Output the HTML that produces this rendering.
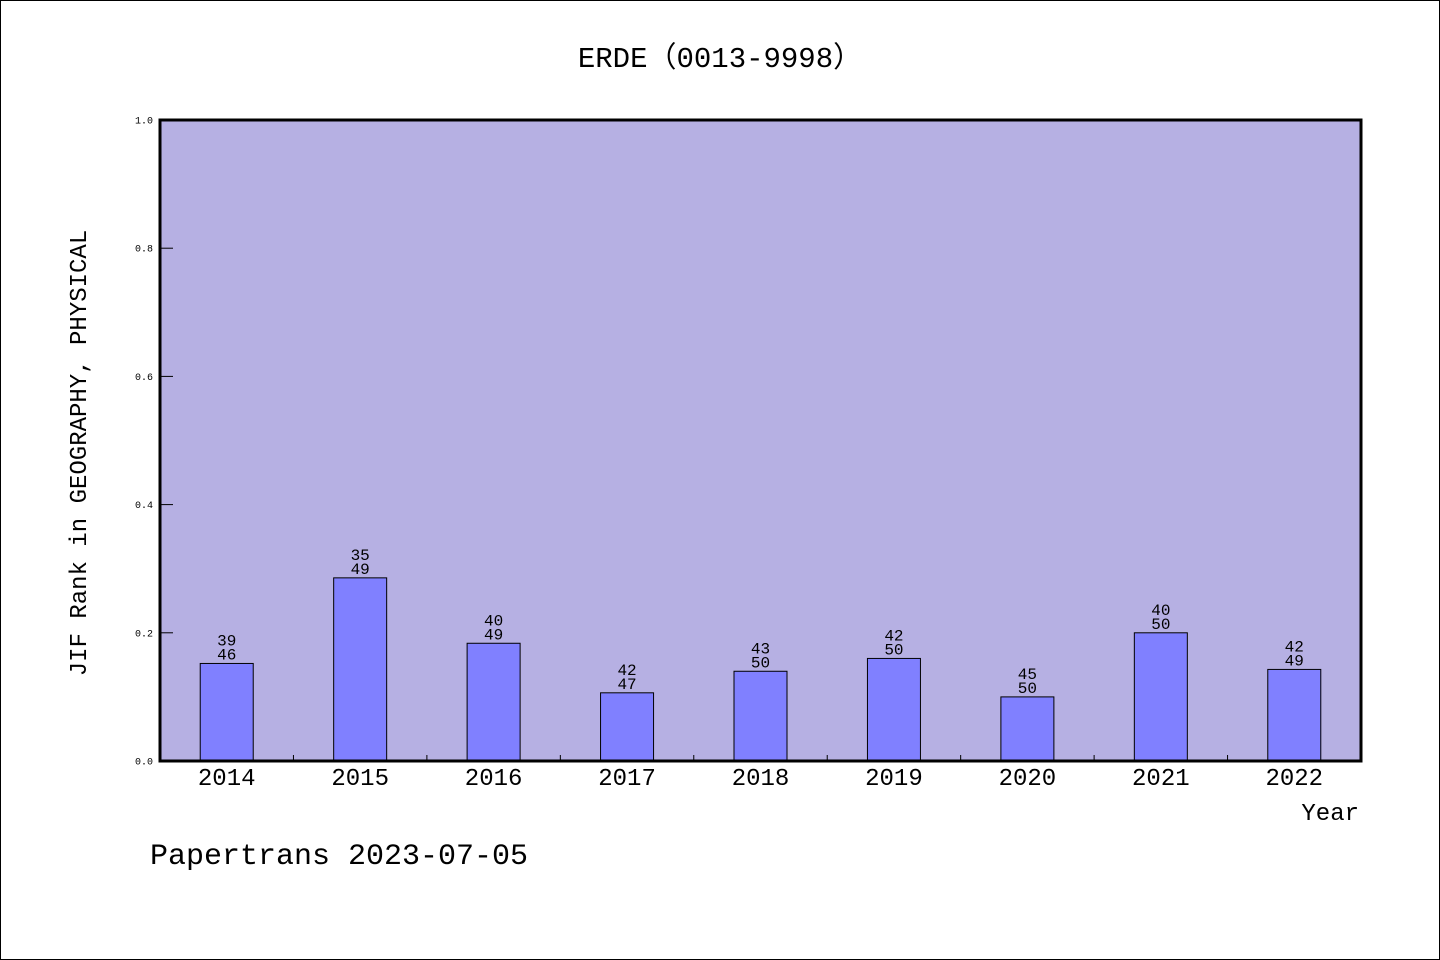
<!DOCTYPE html>
<html><head><meta charset="utf-8"><style>
html,body{margin:0;padding:0;background:#fff}
svg{display:block;font-family:"WenQuanYi Zen Hei Mono","WenQuanYi Zen Hei","Liberation Mono",monospace}
</style></head><body>
<svg id="chart" width="1440" height="960" viewBox="0 0 1440 960" xmlns="http://www.w3.org/2000/svg">
<rect x="0.5" y="0.5" width="1439" height="959" fill="#fff" stroke="#000" stroke-width="1"/>
<text x="720" y="67" text-anchor="middle" font-size="29">ERDE（0013-9998）</text>
<rect x="160" y="120" width="1201" height="641" fill="#b6b0e3"/>
<g id="bars"></g>
<g id="yaxis"></g>
<g id="xaxis"></g>
<rect x="160" y="120" width="1201" height="641" fill="none" stroke="#000" stroke-width="3"/>
<text transform="translate(86,453) rotate(-90)" text-anchor="middle" font-size="24">JIF Rank in GEOGRAPHY, PHYSICAL</text>
<text x="1359" y="820" text-anchor="end" font-size="24">Year</text>
<text x="150" y="864" font-size="30">Papertrans 2023-07-05</text>
</svg>
<script>
const years = ["2014","2015","2016","2017","2018","2019","2020","2021","2022"];
const ranks = [39,35,40,42,43,42,45,40,42];
const totals = [46,49,49,47,50,50,50,50,49];
const yTicks = [0,0.2,0.4,0.6,0.8,1.0];
const yTickLabels = ["0.0","0.2","0.4","0.6","0.8","1.0"];

const NS="http://www.w3.org/2000/svg";
const X0=160,X1=1361,Y0=761,Y1=120;
const band=(X1-X0)/years.length;
const xc=i=>X0+band*(i+0.5);
const ys=v=>Y0-(Y0-Y1)*v;
function mk(t,a,p){const e=document.createElementNS(NS,t);for(const k in a)e.setAttribute(k,a[k]);p.appendChild(e);return e;}
const gB=document.getElementById('bars'),gY=document.getElementById('yaxis'),gX=document.getElementById('xaxis');
years.forEach((y,i)=>{
  const v=1-ranks[i]/totals[i];
  const r=mk('rect',{x:xc(i)-26.5,y:ys(v),width:53,height:Y0-ys(v),fill:'#8080ff',stroke:'#000','stroke-width':1},gB);
  
  
  const t1=mk('text',{x:xc(i),y:ys(v)-18,'text-anchor':'middle','font-size':16},gB);
  t1.textContent=ranks[i];
  
  
  const t2=mk('text',{x:xc(i),y:ys(v)-4,'text-anchor':'middle','font-size':16},gB);
  t2.textContent=totals[i];
  
  
  const xl=mk('text',{x:xc(i),y:785,'text-anchor':'middle','font-size':24},gX);
  xl.textContent=y;
  
  
  if(i>0){
    const tk=mk('line',{x1:X0+band*i,x2:X0+band*i,y1:Y0,y2:Y0-6,stroke:'#000','stroke-width':1},gX);
    
    
  }
});
yTicks.forEach((v,i)=>{
  const tk=mk('line',{x1:X0,x2:X0+13,y1:ys(v),y2:ys(v),stroke:'#000','stroke-width':1},gY);
  
  
  const tl=mk('text',{x:153,y:ys(v)+3.5,'text-anchor':'end','font-size':10},gY);
  tl.textContent=yTickLabels[i];
  
  
});
</script>
</body></html>
